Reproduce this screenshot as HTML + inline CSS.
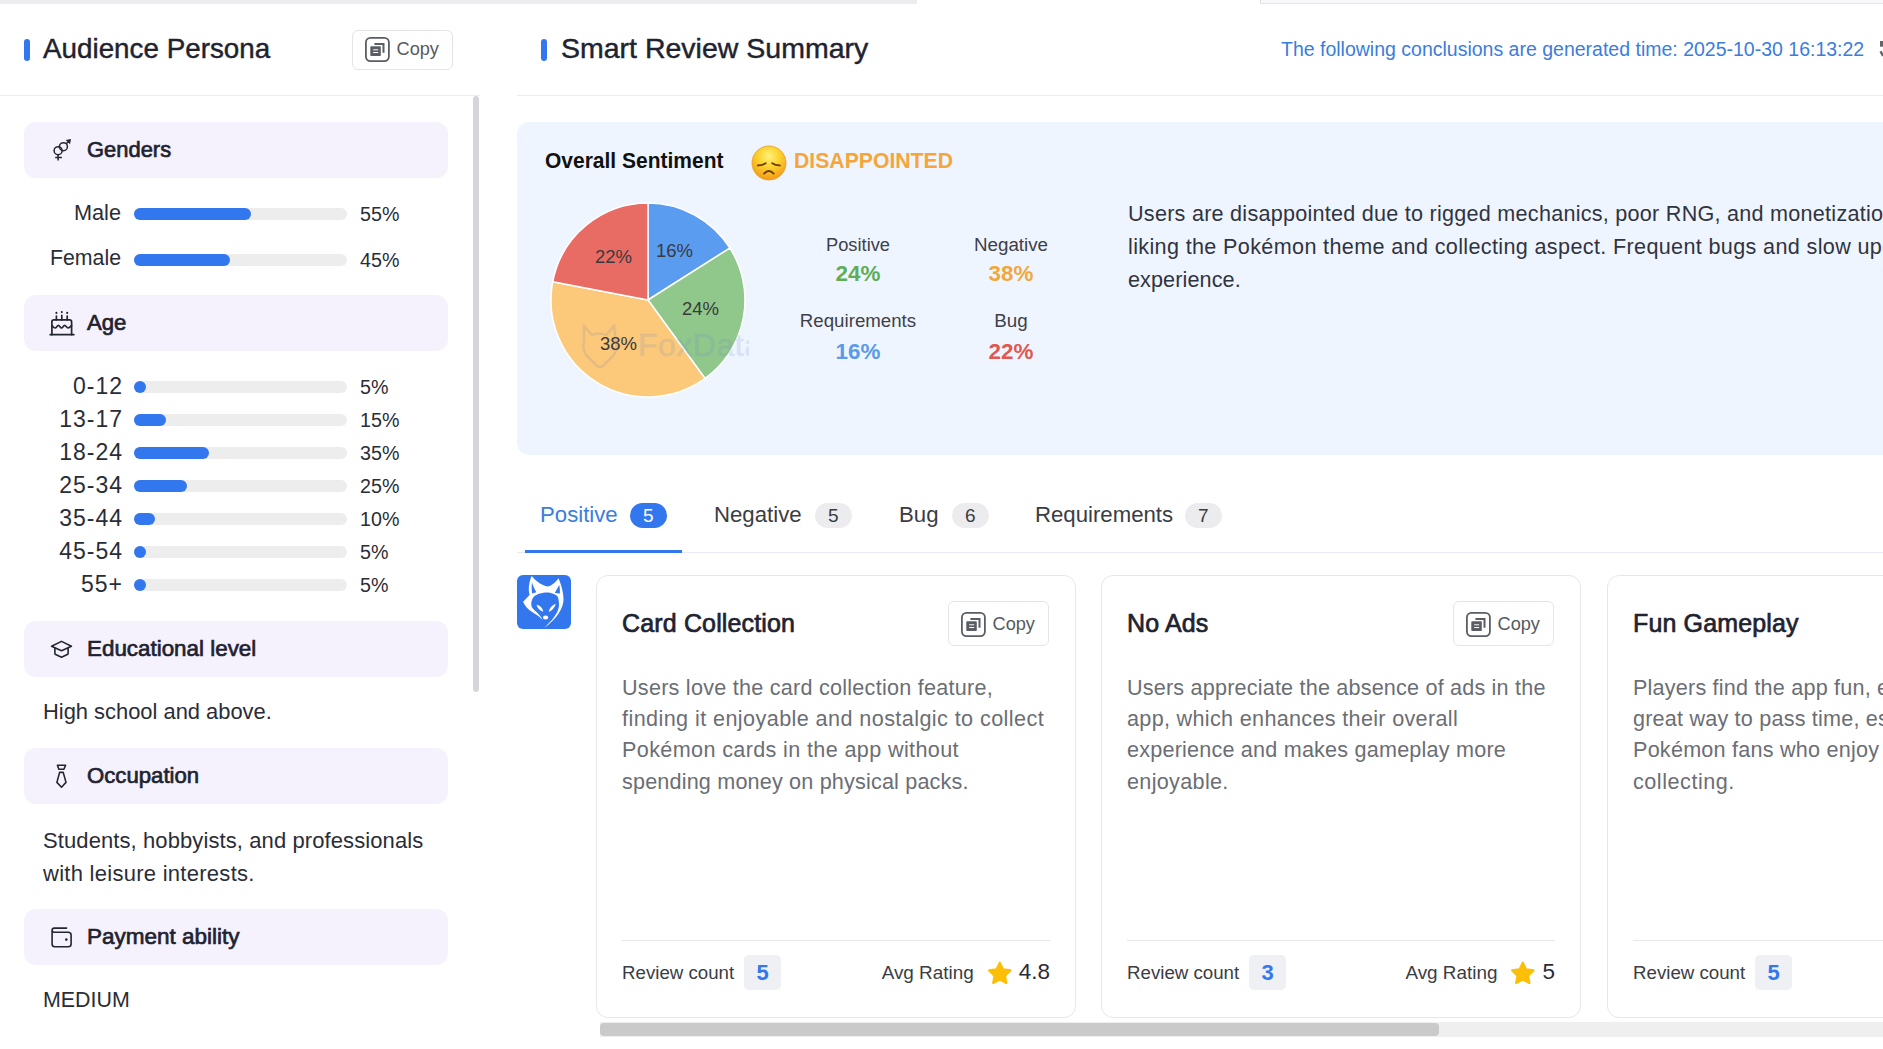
<!DOCTYPE html>
<html><head><meta charset="utf-8">
<style>
*{box-sizing:border-box;margin:0;padding:0}
html,body{width:1883px;height:1049px;overflow:hidden;background:#fff}
body{position:relative;font-family:"Liberation Sans",sans-serif;color:#2a2d36}
.a{position:absolute}
.t{position:absolute;white-space:nowrap;line-height:1}
.semi{-webkit-text-stroke:0.45px currentColor}
.hdr{position:absolute;left:24px;width:424px;height:56px;background:#f5f2fe;border-radius:12px}
.hdr .lb{position:absolute;left:63px;top:0;line-height:56px;font-size:22.5px;transform:scaleX(.975);transform-origin:0 0;-webkit-text-stroke:.7px currentColor;font-weight:400;color:#1f2330;white-space:nowrap}
.track{position:absolute;left:134px;width:213px;height:12px;border-radius:6px;background:#ededed}
.fill{position:absolute;left:0;top:0;height:12px;border-radius:6px;background:#3377ee;min-width:12px}
.rl{position:absolute;width:121px;left:0;text-align:right;white-space:nowrap;line-height:1;color:#2a2d36}
.age{font-size:23px;letter-spacing:1px;width:123px}
.pc{position:absolute;left:360px;white-space:nowrap;line-height:1;font-size:19.7px;color:#2a2d36}
.copy{position:absolute;width:101px;border:1px solid #e4e4e6;border-radius:6px;background:#fff}
.copy svg{position:absolute;left:12.4px}
.copy span{position:absolute;left:43.5px;line-height:1;font-size:18.2px;color:#555a60;white-space:nowrap}
.card{position:absolute;top:575px;width:480px;height:443px;border:1px solid #e6e7ea;border-radius:12px;background:#fff;overflow:hidden}
.card .ttl{position:absolute;left:25px;top:34.6px;font-size:25px;letter-spacing:.15px;-webkit-text-stroke:.7px currentColor;font-weight:400;color:#1f2330;white-space:nowrap;line-height:1}
.card .dl{position:absolute;left:25px;font-size:21.6px;line-height:31.35px;color:#6b6e74;white-space:nowrap}
.card .div{position:absolute;left:25px;top:363.5px;width:428px;height:1px;background:#e6e7ea}
.card .rc{position:absolute;left:25px;top:387.6px;line-height:1;font-size:18.7px;color:#3a3d44;white-space:nowrap}
.card .bd{position:absolute;left:147px;top:379px;width:37px;height:35px;border-radius:5px;background:#eef0f3;color:#3377ee;font-size:22px;font-weight:700;text-align:center;line-height:35px}
.card .rg{position:absolute;right:25px;top:377.5px;height:40px;display:flex;align-items:center;white-space:nowrap}
.card .ar{font-size:18.9px;color:#3a3d44;line-height:1}
.card .star{width:24px;height:24px;margin-left:14px;margin-right:7px}
.card .rv{font-size:22.5px;color:#2a2d36;line-height:1;position:relative;top:-1px}
.tab{position:absolute;top:502px;height:25px;line-height:25px;font-size:22.2px;color:#3a3d44;white-space:nowrap}
.badge{position:absolute;top:503px;height:25px;width:36.5px;border-radius:13px;background:#ececee;color:#3a3d44;font-size:19px;text-align:center;line-height:25px}
</style></head><body>
<div class="a" style="left:0;top:0;width:917px;height:4px;background:#ececee"></div>
<div class="a" style="left:1260px;top:0;width:623px;height:4px;background:#f8f8fb;border-left:1px solid #dfe0e4;border-bottom:1px solid #e4e5ea"></div>
<div class="a" style="left:24px;top:39px;width:6px;height:22px;border-radius:3px;background:#3377ee"></div>
<div class="t semi" style="left:43px;top:35px;font-size:27.8px;color:#1f2330">Audience Persona</div>
<div class="copy" style="left:352px;top:30px;height:40px"><svg style="top:5.7px" width="26" height="26" viewBox="0 0 26 26"><rect x="0.9" y="0.9" width="23" height="23.2" rx="4.6" fill="none" stroke="#5a5d63" stroke-width="1.8"/><path d="M9.4 6H19.5V15.8H17.5V8H9.4Z" fill="#5a5d63"/><rect x="5.3" y="9.3" width="10.5" height="9.7" rx="0.8" fill="#5a5d63"/><path d="M8.2 12.8h5M8.2 15.5h5" stroke="#fff" stroke-width="1"/></svg><span style="top:9px">Copy</span></div>
<div class="a" style="left:0;top:95px;width:480px;height:1px;background:#ececee"></div>
<div class="a" style="left:473px;top:96px;width:6px;height:596px;border-radius:3px;background:#d5d6da"></div>
<div class="hdr" style="top:122px"><svg class="a" style="left:28px;top:16px" width="20" height="24" viewBox="0 0 20 24"><g fill="none" stroke="#24262e" stroke-width="1.5"><circle cx="6.1" cy="12.7" r="4"/><circle cx="11.4" cy="8.7" r="4"/><path d="M14.2 5.8L17.8 2.2M6.1 16.7V22.6M3.2 19.6H9.9"/></g><path d="M19 1L13.7 2L18 6.3Z" fill="#24262e"/></svg><div class="lb" style="transform:scaleX(0.975)">Genders</div></div>
<div class="rl " style="top:201.5px;font-size:21.7px;">Male</div>
<div class="track" style="top:207.5px"><div class="fill" style="width:117px"></div></div>
<div class="pc" style="top:204.5px">55%</div>
<div class="rl " style="top:247.5px;font-size:21.3px;">Female</div>
<div class="track" style="top:253.5px"><div class="fill" style="width:96px"></div></div>
<div class="pc" style="top:250.5px">45%</div>
<div class="hdr" style="top:295px"><svg class="a" style="left:25px;top:16px" width="26" height="26" viewBox="0 0 26 26"><g fill="none" stroke="#24262e" stroke-width="1.7" stroke-linecap="round" stroke-linejoin="round"><path d="M1.2 23.7H24.8"/><path d="M2.9 23.7V10.9Q2.9 8.9 4.9 8.9H20.6Q22.6 8.9 22.6 10.9V23.7"/><path d="M2.9 14.6C4.2 16.5 5 17 6 17C7.5 17 8.3 14.3 9.4 14.3C10.6 14.3 11.3 17 12.5 17C13.7 17 14.4 14.3 15.6 14.3C16.8 14.3 17.6 17 18.9 17C20 17 20.8 16.5 22.6 14.6"/><path d="M7.4 8.9V5M12.8 8.9V4.4M18.2 8.9V5"/></g><g fill="#24262e"><circle cx="7.4" cy="1.9" r="1.05"/><circle cx="12.8" cy="1.1" r="1.05"/><circle cx="18.2" cy="1.9" r="1.05"/></g></svg><div class="lb" style="transform:scaleX(0.985)">Age</div></div>
<div class="rl age" style="top:375px;">0-12</div>
<div class="track" style="top:381px"><div class="fill" style="width:11px"></div></div>
<div class="pc" style="top:378px">5%</div>
<div class="rl age" style="top:408px;">13-17</div>
<div class="track" style="top:414px"><div class="fill" style="width:32px"></div></div>
<div class="pc" style="top:411px">15%</div>
<div class="rl age" style="top:441px;">18-24</div>
<div class="track" style="top:447px"><div class="fill" style="width:75px"></div></div>
<div class="pc" style="top:444px">35%</div>
<div class="rl age" style="top:474px;">25-34</div>
<div class="track" style="top:480px"><div class="fill" style="width:53px"></div></div>
<div class="pc" style="top:477px">25%</div>
<div class="rl age" style="top:507px;">35-44</div>
<div class="track" style="top:513px"><div class="fill" style="width:21px"></div></div>
<div class="pc" style="top:510px">10%</div>
<div class="rl age" style="top:540px;">45-54</div>
<div class="track" style="top:546px"><div class="fill" style="width:11px"></div></div>
<div class="pc" style="top:543px">5%</div>
<div class="rl age" style="top:573px;">55+</div>
<div class="track" style="top:579px"><div class="fill" style="width:11px"></div></div>
<div class="pc" style="top:576px">5%</div>
<div class="hdr" style="top:621px"><svg class="a" style="left:26px;top:19px" width="24" height="20" viewBox="0 0 24 20"><g fill="none" stroke="#24262e" stroke-width="1.6" stroke-linejoin="round"><path d="M1.6 6.3L11.5 1.4L21.4 6.3L11.5 10.8Z"/><path d="M4.9 8V13.4Q4.9 14.2 5.7 14.6L11.5 17.3L17.3 14.6Q18.1 14.2 18.1 13.4V8"/></g></svg><div class="lb" style="transform:scaleX(0.995)">Educational level</div></div>
<div class="t" style="left:43px;top:701px;font-size:21.9px;color:#2a2d36">High school and above.</div>
<div class="hdr" style="top:748px"><svg class="a" style="left:28px;top:14px" width="20" height="28" viewBox="0 0 20 28"><g fill="none" stroke="#24262e" stroke-width="1.6" stroke-linejoin="round"><path d="M5.4 3.2H13.6L11.9 7.3H6.9Z"/><path d="M7.6 10.4H11.2L14 20.4L9.5 25.2L4.9 20.4Z"/></g></svg><div class="lb" style="transform:scaleX(0.985)">Occupation</div></div>
<div class="a" style="left:43px;top:824px;font-size:22px;line-height:33px;letter-spacing:0.095px;color:#2a2d36;white-space:nowrap">Students, hobbyists, and professionals</div>
<div class="a" style="left:43px;top:857px;font-size:22px;line-height:33px;letter-spacing:0.273px;color:#2a2d36;white-space:nowrap">with leisure interests.</div>
<div class="hdr" style="top:909px"><svg class="a" style="left:26px;top:17px" width="24" height="24" viewBox="0 0 24 24"><g fill="none" stroke="#24262e" stroke-width="1.6" stroke-linejoin="round" stroke-linecap="round"><path d="M16.6 2.1H4.3Q2.1 2.1 2.1 4.3V18Q2.1 20.8 4.9 20.8H18.2Q21.1 20.8 21.1 18V9Q21.1 6.2 18.2 6.2H4.3Q2.1 6.2 2.1 4.3"/></g><circle cx="16.3" cy="13.6" r="1.3" fill="#24262e"/></svg><div class="lb" style="transform:scaleX(1.0)">Payment ability</div></div>
<div class="t" style="left:43px;top:990px;font-size:21.4px;color:#2a2d36">MEDIUM</div>
<div class="a" style="left:541px;top:39px;width:6px;height:22px;border-radius:3px;background:#3377ee"></div>
<div class="t semi" style="left:561px;top:34px;font-size:28.5px;color:#1f2330">Smart Review Summary</div>
<div class="t" style="left:1281px;top:40px;font-size:19.5px;color:#3b7ddd">The following conclusions are generated time: 2025-10-30 16:13:22</div>
<svg class="a" style="left:1878px;top:38px" width="5" height="22" viewBox="0 0 5 22"><rect x="2" y="3" width="3" height="5.7" fill="#626469"/><path d="M2.6 13.2L5 18" stroke="#626469" stroke-width="2.4"/></svg>
<div class="a" style="left:517px;top:95px;width:1366px;height:1px;background:#ececee"></div>
<div class="a" style="left:517px;top:122px;width:1400px;height:333px;background:#eff5ff;border-radius:12px"></div>
<div class="t" style="left:545px;top:150px;font-size:22.5px;font-weight:700;color:#111;transform:scaleX(.933);transform-origin:0 0">Overall Sentiment</div>
<div class="t" style="left:794px;top:150px;font-size:22.5px;font-weight:700;color:#f5a53a;transform:scaleX(.942);transform-origin:0 0">DISAPPOINTED</div>
<svg class="a" style="left:751px;top:145px" width="36" height="36" viewBox="0 0 36 36"><defs><radialGradient id="eg" cx="50%" cy="30%" r="70%"><stop offset="0" stop-color="#fff17a"/><stop offset=".45" stop-color="#fcd22e"/><stop offset="1" stop-color="#f29a17"/></radialGradient></defs><circle cx="18" cy="18" r="17" fill="url(#eg)" stroke="#e89a20" stroke-width=".8"/><path d="M6.8 20.4Q11 20.6 14.7 18.3M28.9 20.4Q24.7 20.6 21.2 18.3M13.1 28.6Q17.8 23.4 22.6 28.6" fill="none" stroke="#6b3c08" stroke-width="1.9" stroke-linecap="round"/></svg>
<svg class="a" style="left:0;top:0" width="1883" height="460" viewBox="0 0 1883 460"><path d="M648 300L648.00 203.00A97 97 0 0 1 729.90 248.02Z" fill="#5a9cf0" stroke="#fff" stroke-width="1.5" stroke-linejoin="round"/><path d="M648 300L729.90 248.02A97 97 0 0 1 705.02 378.47Z" fill="#90c78b" stroke="#fff" stroke-width="1.5" stroke-linejoin="round"/><path d="M648 300L705.02 378.47A97 97 0 0 1 552.72 281.82Z" fill="#fcc87a" stroke="#fff" stroke-width="1.5" stroke-linejoin="round"/><path d="M648 300L552.72 281.82A97 97 0 0 1 648.00 203.00Z" fill="#e96c64" stroke="#fff" stroke-width="1.5" stroke-linejoin="round"/></svg>
<div class="t" style="left:656px;top:242px;font-size:18.5px;color:#3a3a3c">16%</div>
<div class="t" style="left:682px;top:300px;font-size:18.5px;color:#3a3a3c">24%</div>
<div class="t" style="left:600px;top:335px;font-size:18.5px;color:#3a3a3c">38%</div>
<div class="t" style="left:595px;top:248px;font-size:18.5px;color:#3a3a3c">22%</div>
<div class="a" style="left:578px;top:320px;width:171px;height:52px;overflow:hidden;opacity:.18"><svg class="a" style="left:2px;top:4px" width="38" height="44" viewBox="0 0 38 44"><path d="M4 2l8 9q7-3 14 0l8-9 2 16q2 8-3 14l-10 10-3 1-3-1-10-10q-5-6-3-14z" fill="none" stroke="#7a8aa8" stroke-width="2.5"/></svg><div class="t" style="left:60px;top:9px;font-size:32px;letter-spacing:.5px;-webkit-text-stroke:.6px #6d8fc8;color:#6d8fc8">FoxData</div></div>
<div class="t" style="left:798px;width:120px;text-align:center;top:235.5px;font-size:18.3px;color:#3d4049">Positive</div>
<div class="t" style="left:798px;width:120px;text-align:center;top:263.2px;font-size:22.4px;font-weight:700;color:#5fad56">24%</div>
<div class="t" style="left:951px;width:120px;text-align:center;top:235.5px;font-size:18.8px;color:#3d4049">Negative</div>
<div class="t" style="left:951px;width:120px;text-align:center;top:263.2px;font-size:22.4px;font-weight:700;color:#f2a73b">38%</div>
<div class="t" style="left:798px;width:120px;text-align:center;top:312.4px;font-size:18.7px;color:#3d4049">Requirements</div>
<div class="t" style="left:798px;width:120px;text-align:center;top:340.6px;font-size:22.4px;font-weight:700;color:#5b9ae8">16%</div>
<div class="t" style="left:951px;width:120px;text-align:center;top:312.4px;font-size:18.8px;color:#3d4049">Bug</div>
<div class="t" style="left:951px;width:120px;text-align:center;top:340.6px;font-size:22.4px;font-weight:700;color:#e2574f">22%</div>
<div class="a" style="left:1128px;top:197px;font-size:21.6px;line-height:33px;letter-spacing:0.25px;color:#30343e;white-space:nowrap">Users are disappointed due to rigged mechanics, poor RNG, and monetization</div>
<div class="a" style="left:1128px;top:230px;font-size:21.6px;line-height:33px;letter-spacing:0.35px;color:#30343e;white-space:nowrap">liking the Pokémon theme and collecting aspect. Frequent bugs and slow updates</div>
<div class="a" style="left:1128px;top:263px;font-size:21.6px;line-height:33px;letter-spacing:0.1px;color:#30343e;white-space:nowrap">experience.</div>
<div class="a" style="left:517px;top:552px;width:1366px;height:1px;background:#e8ebf2"></div>
<div class="a" style="left:525px;top:550px;width:157px;height:3px;background:#3377ee"></div>
<div class="tab" style="left:540px;color:#3b7ddd">Positive</div><div class="badge" style="left:630px;background:#3377ee;color:#fff">5</div>
<div class="tab" style="left:714px">Negative</div><div class="badge" style="left:815px">5</div>
<div class="tab" style="left:899px">Bug</div><div class="badge" style="left:952px">6</div>
<div class="tab" style="left:1035px">Requirements</div><div class="badge" style="left:1185px">7</div>
<svg class="a" style="left:517px;top:575px" width="54" height="54" viewBox="0 0 54 54"><rect width="54" height="54" rx="6" fill="#3377ee"/><path d="M14.7 1.1C18 5 24 10.5 30.1 11.4C34 11.5 39 7 41.5 3.2C44 9 46.5 17 46.5 24.3C46.5 33 40 44 27.2 52.9C35 45.5 42 37.5 42 30C42 25.5 41.3 22.5 40.3 21C37 18.3 33 17.2 30.1 17.4C25 17.5 20 19 17.5 21C14.5 24 13.5 29 15 32.5C17 35.5 22 38 25.8 45C21 40 14 37 11.5 34.3C9 32 7 29 6.1 26.8L12.6 20C11 14 12 7 14.7 1.1Z" fill="#fff"/><path d="M15 7.2C14.5 11 14.6 15 15.2 18.6L19.3 17.2C17.5 14 16 11 15 7.2Z" fill="#3377ee"/><path d="M42.2 10C40.5 13 39 15.5 37.9 17.9L42.9 18.6C43 15.5 42.8 12.5 42.2 10Z" fill="#3377ee"/><g fill="#fff"><path d="M19.5 29.8C22.8 30.2 25.5 32.8 26.3 36.8C23 35.8 20.5 33.2 19.5 29.8Z"/><path d="M38.8 29.1C35.5 29.8 32.6 32.8 31.7 37C35 35.8 37.8 32.6 38.8 29.1Z"/><ellipse cx="28.6" cy="42.5" rx="2.6" ry="2"/></g></svg>
<div class="card" style="left:596px">
<div class="ttl">Card Collection</div>
<div class="copy" style="left:351px;top:24.5px;height:45.5px"><svg style="top:10px" width="26" height="26" viewBox="0 0 26 26"><rect x="0.9" y="0.9" width="23" height="23.2" rx="4.6" fill="none" stroke="#5a5d63" stroke-width="1.8"/><path d="M9.4 6H19.5V15.8H17.5V8H9.4Z" fill="#5a5d63"/><rect x="5.3" y="9.3" width="10.5" height="9.7" rx="0.8" fill="#5a5d63"/><path d="M8.2 12.8h5M8.2 15.5h5" stroke="#fff" stroke-width="1"/></svg><span style="top:13px">Copy</span></div>
<div class="dl" style="top:95.70px;letter-spacing:0.247px">Users love the card collection feature,</div><div class="dl" style="top:127.05px;letter-spacing:0.416px">finding it enjoyable and nostalgic to collect</div><div class="dl" style="top:158.40px;letter-spacing:0.363px">Pokémon cards in the app without</div><div class="dl" style="top:189.75px;letter-spacing:0.176px">spending money on physical packs.</div>
<div class="div"></div>
<div class="rc">Review count</div><div class="bd">5</div>
<div class="rg"><span class="ar">Avg Rating</span><span class="star"><svg width="24" height="24" viewBox="0 0 24 24" style="position:relative;top:-1px"><path d="M11.80 1.70L15.09 8.37L22.45 9.44L17.13 14.63L18.38 21.96L11.80 18.50L5.22 21.96L6.47 14.63L1.15 9.44L8.51 8.37Z" fill="#fbbf08" stroke="#fbbf08" stroke-width="2.2" stroke-linejoin="round"/></svg></span><span class="rv">4.8</span></div>
</div>
<div class="card" style="left:1101px">
<div class="ttl">No Ads</div>
<div class="copy" style="left:351px;top:24.5px;height:45.5px"><svg style="top:10px" width="26" height="26" viewBox="0 0 26 26"><rect x="0.9" y="0.9" width="23" height="23.2" rx="4.6" fill="none" stroke="#5a5d63" stroke-width="1.8"/><path d="M9.4 6H19.5V15.8H17.5V8H9.4Z" fill="#5a5d63"/><rect x="5.3" y="9.3" width="10.5" height="9.7" rx="0.8" fill="#5a5d63"/><path d="M8.2 12.8h5M8.2 15.5h5" stroke="#fff" stroke-width="1"/></svg><span style="top:13px">Copy</span></div>
<div class="dl" style="top:95.70px;letter-spacing:0.192px">Users appreciate the absence of ads in the</div><div class="dl" style="top:127.05px;letter-spacing:0.318px">app, which enhances their overall</div><div class="dl" style="top:158.40px;letter-spacing:0.203px">experience and makes gameplay more</div><div class="dl" style="top:189.75px;letter-spacing:0.322px">enjoyable.</div>
<div class="div"></div>
<div class="rc">Review count</div><div class="bd">3</div>
<div class="rg"><span class="ar">Avg Rating</span><span class="star"><svg width="24" height="24" viewBox="0 0 24 24" style="position:relative;top:-1px"><path d="M11.80 1.70L15.09 8.37L22.45 9.44L17.13 14.63L18.38 21.96L11.80 18.50L5.22 21.96L6.47 14.63L1.15 9.44L8.51 8.37Z" fill="#fbbf08" stroke="#fbbf08" stroke-width="2.2" stroke-linejoin="round"/></svg></span><span class="rv">5</span></div>
</div>
<div class="card" style="left:1607px">
<div class="ttl">Fun Gameplay</div>
<div class="copy" style="left:351px;top:24.5px;height:45.5px"><svg style="top:10px" width="26" height="26" viewBox="0 0 26 26"><rect x="0.9" y="0.9" width="23" height="23.2" rx="4.6" fill="none" stroke="#5a5d63" stroke-width="1.8"/><path d="M9.4 6H19.5V15.8H17.5V8H9.4Z" fill="#5a5d63"/><rect x="5.3" y="9.3" width="10.5" height="9.7" rx="0.8" fill="#5a5d63"/><path d="M8.2 12.8h5M8.2 15.5h5" stroke="#fff" stroke-width="1"/></svg><span style="top:13px">Copy</span></div>
<div class="dl" style="top:95.70px;letter-spacing:0.200px">Players find the app fun, engaging and a</div><div class="dl" style="top:127.05px;letter-spacing:0.200px">great way to pass time, especially</div><div class="dl" style="top:158.40px;letter-spacing:0.230px">Pokémon fans who enjoy</div><div class="dl" style="top:189.75px;letter-spacing:0.532px">collecting.</div>
<div class="div"></div>
<div class="rc">Review count</div><div class="bd">5</div>
<div class="rg"><span class="ar">Avg Rating</span><span class="star"><svg width="24" height="24" viewBox="0 0 24 24" style="position:relative;top:-1px"><path d="M11.80 1.70L15.09 8.37L22.45 9.44L17.13 14.63L18.38 21.96L11.80 18.50L5.22 21.96L6.47 14.63L1.15 9.44L8.51 8.37Z" fill="#fbbf08" stroke="#fbbf08" stroke-width="2.2" stroke-linejoin="round"/></svg></span><span class="rv">4.6</span></div>
</div>
<div class="a" style="left:600px;top:1022px;width:1283px;height:15px;background:#efefef"></div>
<div class="a" style="left:600px;top:1023px;width:839px;height:13px;border-radius:4px;background:#cacaca"></div>
</body></html>
